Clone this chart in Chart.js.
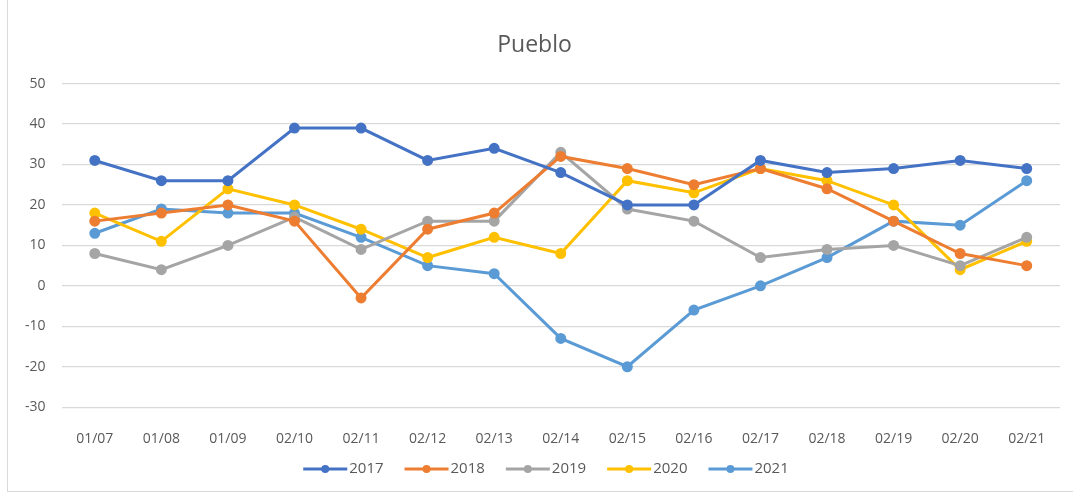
<!DOCTYPE html>
<html>
<head>
<meta charset="utf-8">
<script src="https://cdn.jsdelivr.net/npm/chart.js@4/dist/chart.umd.min.js"></script>
<style>
  html, body { margin: 0; padding: 0; background: #fff; }
  #wrap { position: relative; width: 1073px; height: 499px; }
  #frame { position: absolute; left: 7px; top: -1px; width: 1070px; height: 493px; border: 1px solid #d9d9d9; box-sizing: border-box; }
  canvas { position: absolute; left: 0; top: 0; }
</style>
</head>
<body>
<div id="wrap">
  <div id="frame"></div>
  <canvas id="chart" width="1073" height="499"></canvas>
</div>
<script>
// Data
const dates = ['01/07', '01/08', '01/09', '02/10', '02/11', '02/12', '02/13', '02/14', '02/15', '02/16', '02/17', '02/18', '02/19', '02/20', '02/21'];
const y2017 = [31, 26, 26, 39, 39, 31, 34, 28, 20, 20, 31, 28, 29, 31, 29];
const y2018 = [16, 18, 20, 16, -3, 14, 18, 32, 29, 25, 29, 24, 16, 8, 5];
const y2019 = [8, 4, 10, 17, 9, 16, 16, 33, 19, 16, 7, 9, 10, 5, 12];
const y2020 = [18, 11, 24, 20, 14, 7, 12, 8, 26, 23, 29, 26, 20, 4, 11];
const y2021 = [13, 19, 18, 18, 12, 5, 3, -13, -20, -6, 0, 7, 16, 15, 26];

const colors = ['#4472C4', '#ED7D31', '#A5A5A5', '#FFC000', '#5B9BD5'];
const textColor = '#595959';
const fontFamily = 'Open Sans';

// Excel-like legend: line with a dot, then the label, centred under the plot
const lineLegend = {
    id: 'lineLegend',
    afterDraw(chart) {
        const ctx = chart.ctx;
        const iconW = 44, iconGap = 2, itemGap = 21;
        const y = 469;
        ctx.save();
        ctx.font = '15px "' + fontFamily + '"';
        ctx.textBaseline = 'middle';
        const items = chart.data.datasets.map(ds => ({
            label: ds.label, color: ds.borderColor, w: ctx.measureText(ds.label).width
        }));
        const total = items.reduce((s, it) => s + iconW + iconGap + it.w, 0) + itemGap * (items.length - 1);
        let x = 546 - total / 2;
        items.forEach(it => {
            ctx.strokeStyle = it.color;
            ctx.lineWidth = 3;
            ctx.beginPath(); ctx.moveTo(x, y); ctx.lineTo(x + iconW, y); ctx.stroke();
            ctx.fillStyle = it.color;
            ctx.beginPath(); ctx.arc(x + iconW / 2, y, 4, 0, Math.PI * 2); ctx.fill();
            ctx.fillStyle = textColor;
            ctx.fillText(it.label, x + iconW + iconGap, y);
            x += iconW + iconGap + it.w + itemGap;
        });
        ctx.restore();
    }
};

function series(label, data, color) {
    return {
        label: label,
        data: data,
        borderColor: color,
        backgroundColor: color,
        borderWidth: 3,
        pointRadius: 4,
        pointHoverRadius: 4,
        pointBackgroundColor: color,
        pointBorderColor: color,
        tension: 0
    };
}

new Chart(document.getElementById('chart'), {
    type: 'line',
    data: {
        labels: dates,
        datasets: [
            series('2017', y2017, colors[0]),
            series('2018', y2018, colors[1]),
            series('2019', y2019, colors[2]),
            series('2020', y2020, colors[3]),
            series('2021', y2021, colors[4])
        ]
    },
    plugins: [lineLegend],
    options: {
        responsive: false,
        animation: false,
        layout: { padding: { left: 9, right: 13, top: 32, bottom: 37 } },
        plugins: {
            title: {
                display: true,
                text: 'Pueblo',
                color: textColor,
                font: { family: fontFamily, size: 23, weight: 'normal' },
                padding: { top: 0, bottom: 24 }
            },
            legend: { display: false },
            tooltip: { enabled: false }
        },
        scales: {
            x: {
                offset: true,
                grid: { display: false },
                border: { display: false },
                ticks: { color: textColor, font: { family: fontFamily, size: 14 }, padding: 15 }
            },
            y: {
                min: -30,
                max: 50,
                ticks: { stepSize: 10, color: textColor, font: { family: fontFamily, size: 14 }, padding: 16 },
                grid: { color: '#d9d9d9', lineWidth: 1.2, drawTicks: false },
                border: { display: false }
            }
        }
    }
});
</script>
</body>
</html>
